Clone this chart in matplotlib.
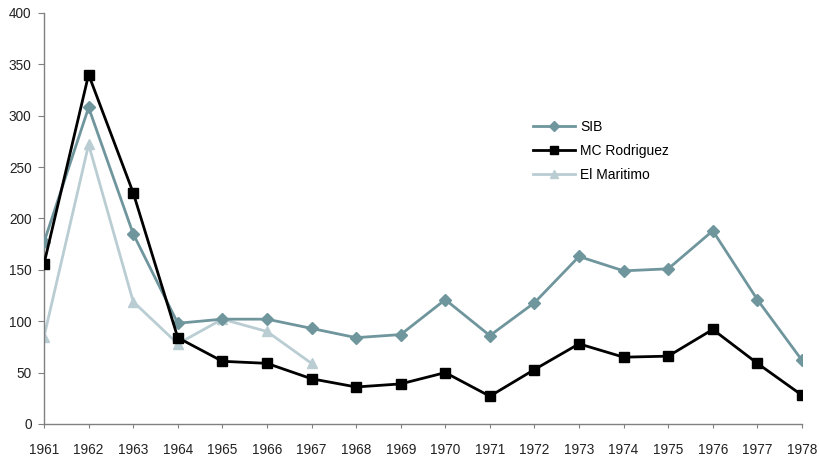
import matplotlib.pyplot as plt

years = list(range(1961, 1979))
sib = [177, 308, 185, 98, 102, 102, 93, 84, 87, 121, 86, 118, 163, 149, 151, 188, 121, 62]
mc_rodriguez = [156, 340, 225, 84, 61, 59, 44, 36, 39, 50, 27, 53, 78, 65, 66, 92, 59, 28]
el_maritimo = [85, 272, 119, 78, 102, 90, 59]

plt.rcParams['font.family'] = ['Liberation Sans', 'DejaVu Sans']

fig = plt.figure(figsize=(8.2, 4.62), dpi=100)
ax = fig.add_axes([0.0537, 0.0823, 0.9243, 0.8897])

ax.plot(years, sib, color='#6f959d', lw=2, marker='D', markersize=6.5, label='SIB', zorder=3)
ax.plot(years, mc_rodriguez, color='black', lw=2, marker='s', markersize=7, label='MC Rodriguez', zorder=4)
ax.plot(years[:len(el_maritimo)], el_maritimo, color='#b9cdd3', lw=2, marker='^', markersize=7,
        label='El Maritimo', zorder=2)

ax.set_xlim(1961, 1978)
ax.set_ylim(0, 400)
ax.set_xticks(years)
ax.set_yticks(range(0, 401, 50))

for side in ['top', 'right']:
    ax.spines[side].set_visible(False)
for side in ['left', 'bottom']:
    ax.spines[side].set_color('#808080')
    ax.spines[side].set_linewidth(1)
ax.tick_params(colors='#808080', labelcolor='#222222', labelsize=9.8)
ax.tick_params(axis='y', length=4, pad=5)
ax.tick_params(axis='x', length=3, pad=11)
for lab in ax.get_xticklabels() + ax.get_yticklabels():
    lab.set_clip_on(False)

ax.legend(loc='upper left', bbox_to_anchor=(0.629, 0.77), frameon=False, fontsize=10,
          handlelength=3, labelspacing=0.72, handletextpad=0.4, markerscale=0.8)

fig.savefig('out.png', dpi=100)
